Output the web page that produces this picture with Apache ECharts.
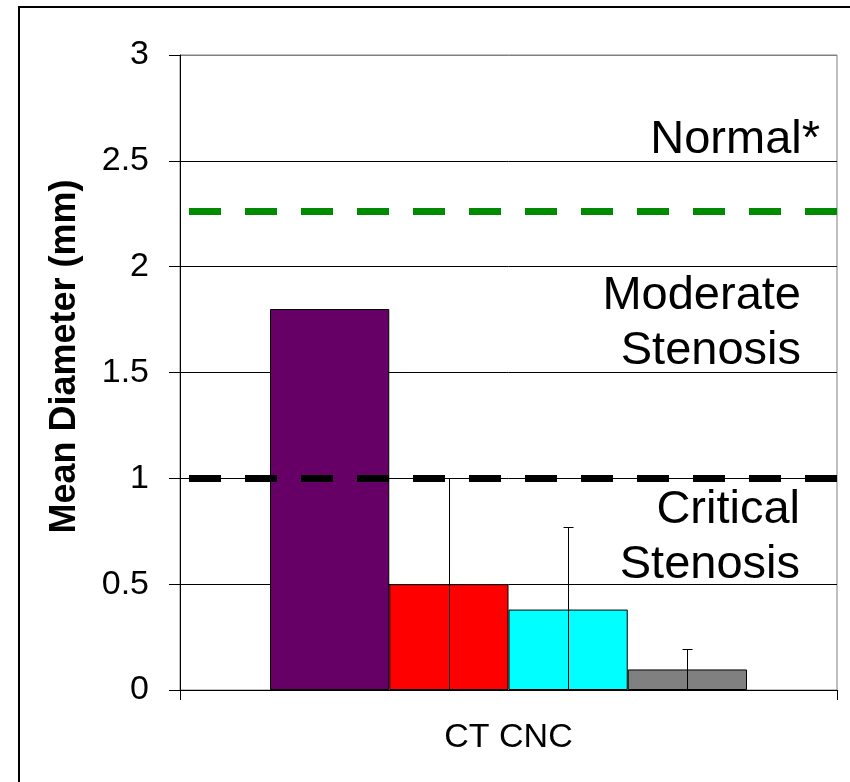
<!DOCTYPE html>
<html>
<head>
<meta charset="utf-8">
<script src="https://cdn.jsdelivr.net/npm/echarts@6/dist/echarts.min.js"></script>
<style>
  html, body { margin: 0; padding: 0; background: #fff; }
  #chart { width: 850px; height: 782px; }
</style>
</head>
<body>
<div id="chart"></div>
<script>
// ---- data ----
const categories = ['CT CNC'];
const seriesNames = ['Group 1', 'Group 2', 'Group 3', 'Group 4'];
const meanValues = [1.8, 0.5, 0.38, 0.097];
const errorValues = [0, 0.5, 0.39, 0.098];
const normalThreshold = 2.26;
const criticalThreshold = 1.0;
const yMin = 0, yMax = 3, yInterval = 0.5;
const annotationTexts = ['Normal*', 'Moderate\nStenosis', 'Critical\nStenosis'];
const annotationValues = [2.6, 1.73, 0.72];

// ---- styles ----
const barColors = ['#660066', '#ff0000', '#00ffff', '#808080'];
const FONT = '"Liberation Sans", Arial, sans-serif';
const CAT_GAP = 0.274;

const chart = echarts.init(document.getElementById('chart'), null, { renderer: 'canvas' });

const barSeries = seriesNames.map((name, i) => ({
  name: name,
  type: 'bar',
  data: [meanValues[i]],
  barGap: '0%',
  barCategoryGap: (CAT_GAP * 100) + '%',
  itemStyle: { color: barColors[i], borderColor: '#000', borderWidth: 1 },
  silent: true,
  z: 2
}));

barSeries[0].markLine = {
  silent: true,
  symbol: ['none', 'none'],
  label: { show: false },
  z: 5,
  data: [
    { yAxis: normalThreshold, lineStyle: { color: '#008a00', width: 7, type: [32, 24], dashOffset: 47 } },
    { yAxis: criticalThreshold, lineStyle: { color: '#000000', width: 7, type: [32, 24], dashOffset: 47 } }
  ]
};

const errorSeries = {
  type: 'custom',
  name: 'error',
  silent: true,
  z: 3,
  data: meanValues.map((v, i) => [0, i, v, errorValues[i]]),
  encode: { x: 0, y: 2 },
  renderItem: function (params, api) {
    const idx = api.value(1), v = api.value(2), e = api.value(3);
    if (!e) return null;
    const band = api.size([1, 0])[0];
    const bw = band * (1 - CAT_GAP) / 4;
    let cx = api.coord([api.value(0), 0])[0] + (idx - (seriesNames.length - 1) / 2) * bw;
    cx = Math.round(cx) + 0.5;
    const yTop = Math.round(api.coord([api.value(0), v + e])[1]) + 0.5;
    const yBot = api.coord([api.value(0), Math.max(0, v - e)])[1];
    const st = { stroke: '#000', lineWidth: 1 };
    return {
      type: 'group',
      children: [
        { type: 'line', shape: { x1: cx, y1: yTop, x2: cx, y2: yBot }, style: st },
        { type: 'line', shape: { x1: cx - 5, y1: yTop, x2: cx + 5, y2: yTop }, style: st }
      ]
    };
  }
};

const option = {
  backgroundColor: '#ffffff',
  animation: false,
  grid: {
    left: 180, top: 55, right: 13, bottom: 92,
    show: true, borderColor: '#808080', borderWidth: 1, backgroundColor: 'transparent'
  },
  xAxis: {
    type: 'category',
    data: categories,
    boundaryGap: true,
    axisLine: { lineStyle: { color: '#000', width: 1 } },
    axisTick: { show: true, inside: false, length: 10, alignWithLabel: false, lineStyle: { color: '#000' } },
    axisLabel: { color: '#000', fontSize: 34, fontFamily: FONT, margin: 31 },
    splitLine: { show: false }
  },
  yAxis: {
    type: 'value',
    min: yMin, max: yMax, interval: yInterval,
    name: 'Mean Diameter (mm)',
    nameLocation: 'middle',
    nameRotate: 90,
    nameGap: 97,
    nameTextStyle: { color: '#000', fontSize: 36, fontWeight: 'bold', fontFamily: FONT, padding: [0, 0, 0, 32] },
    axisLine: { show: true, lineStyle: { color: '#000', width: 1 } },
    axisTick: { show: true, inside: false, length: 11, lineStyle: { color: '#000' } },
    axisLabel: { color: '#000', fontSize: 34, fontFamily: FONT, margin: 31 },
    splitLine: { show: true, lineStyle: { color: ['#000', '#000', '#000', '#000', '#000', '#000', '#808080'], width: 1 } }
  },
  series: barSeries.concat([errorSeries])
};

chart.setOption(option);

// annotations anchored to value positions on the y axis
const gridRight = 850 - 13;
const rightOffsets = [17, 36, 37];
const graphics = [
  {
    type: 'rect', silent: true, z: 100,
    shape: { x: 19, y: 7, width: 900, height: 900 },
    style: { fill: 'none', stroke: '#000', lineWidth: 2 }
  }
];
annotationTexts.forEach((t, i) => {
  const y = chart.convertToPixel({ yAxisIndex: 0 }, annotationValues[i]);
  graphics.push({
    type: 'text', silent: true, z: 50,
    x: gridRight - rightOffsets[i], y: y,
    style: {
      text: t, fill: '#000', font: '47px ' + FONT,
      align: 'right', verticalAlign: 'middle', lineHeight: 55
    }
  });
});
chart.setOption({ graphic: graphics });
</script>
</body>
</html>
